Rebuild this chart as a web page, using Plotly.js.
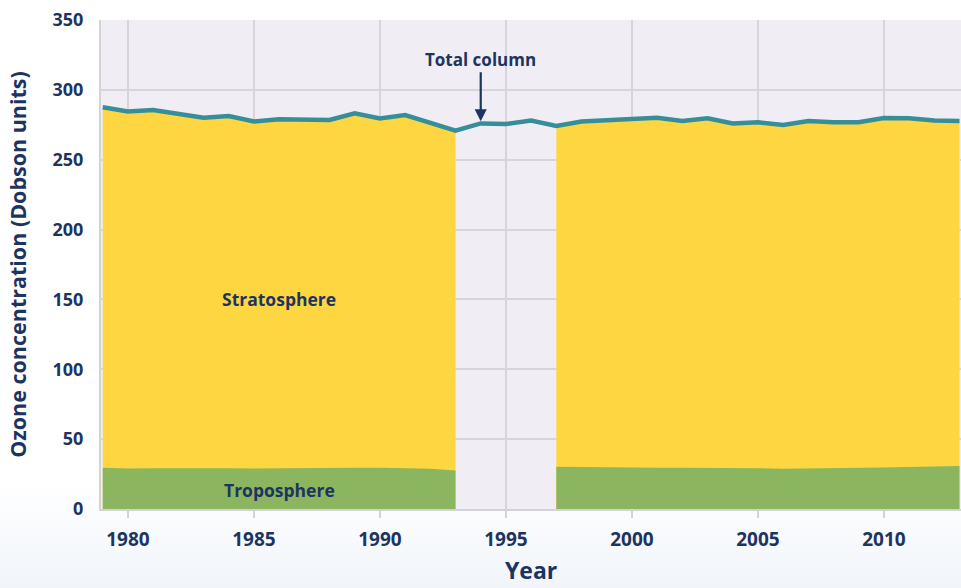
<!DOCTYPE html>
<html>
<head>
<meta charset="utf-8">
<script src="https://cdn.plot.ly/plotly-3.0.1.min.js"></script>
<style>
  html, body { margin: 0; padding: 0; }
  body { width: 961px; height: 588px; overflow: hidden;
         background: linear-gradient(to bottom, #ffffff 0%, #ffffff 82%, #f1f5fa 100%); }
  #chart { width: 961px; height: 588px; }
</style>
</head>
<body>
<div id="chart"></div>
<script>
// Years 1979-2013
const years = [1979,1980,1981,1982,1983,1984,1985,1986,1987,1988,1989,1990,1991,1992,1993,1994,1995,1996,1997,1998,1999,2000,2001,2002,2003,2004,2005,2006,2007,2008,2009,2010,2011,2012,2013];

// Total column ozone (Dobson units)
const totalColumn = [287.5,284.5,285.6,282.7,280.0,281.3,277.3,279.0,279.0,278.5,283.2,279.6,282.0,276.0,270.8,276.0,275.6,278.0,274.2,277.3,278.0,279.0,280.0,277.7,279.6,276.0,276.8,274.9,277.7,276.8,276.8,279.9,279.6,278.0,277.7];

// Troposphere (no data 1994-1996)
const troposphere = [29.5,29.0,29.2,29.3,29.2,29.1,29.0,29.2,29.7,29.8,29.6,29.5,29.3,28.8,27.5,null,null,null,30.3,30.0,29.9,29.8,29.6,29.5,29.5,29.4,29.2,28.8,28.9,29.0,29.3,29.7,30.0,30.3,30.7];

// Stratosphere (no data 1994-1996)
const stratosphere = [258.0,255.5,256.4,253.4,250.8,252.2,248.3,249.8,249.3,248.7,253.6,250.1,252.7,247.2,243.3,null,null,null,243.9,247.3,248.1,249.2,250.4,248.2,250.1,246.6,247.6,246.1,248.8,247.8,247.5,250.2,249.6,247.7,247.0];

const xTicks = [1980,1985,1990,1995,2000,2005,2010];
const yTicks = [0,50,100,150,200,250,300,350];

const navy = '#1d3461';
const font = {family: '"Open Sans", "Noto Sans", sans-serif', color: navy, weight: 'bold'};

// stacked top of stratosphere band
const stratTop = troposphere.map((t, i) => (t === null || stratosphere[i] === null) ? null : t + stratosphere[i]);

// split a series into contiguous non-null segments
function segments(xs, ys) {
  const out = [];
  let cur = null;
  ys.forEach((v, i) => {
    if (v === null) { cur = null; return; }
    if (!cur) { cur = {x: [], y: []}; out.push(cur); }
    cur.x.push(xs[i]); cur.y.push(v);
  });
  return out;
}

const traces = [];
segments(years, stratTop).forEach(s => traces.push({
  x: s.x, y: s.y, type: 'scatter', mode: 'lines', fill: 'tozeroy',
  fillcolor: '#fed642', line: {width: 0, color: '#fed642'}, hoverinfo: 'skip', name: 'Stratosphere'}));
segments(years, troposphere).forEach(s => traces.push({
  x: s.x, y: s.y, type: 'scatter', mode: 'lines', fill: 'tozeroy',
  fillcolor: '#8bb55f', line: {width: 0, color: '#8bb55f'}, hoverinfo: 'skip', name: 'Troposphere'}));
traces.push({x: years, y: totalColumn, type: 'scatter', mode: 'lines',
  line: {width: 4.5, color: '#368e9b'}, name: 'Total column'});

const layout = {
  width: 961, height: 588,
  margin: {l: 101, r: 0, t: 20, b: 79},
  paper_bgcolor: 'rgba(0,0,0,0)',
  plot_bgcolor: '#f0eef4',
  showlegend: false,
  xaxis: {
    range: [1978.93, 2013.06],
    tickvals: xTicks, ticktext: xTicks.map(String),
    showgrid: true, gridcolor: '#d6d6da', gridwidth: 2,
    showline: true, linecolor: '#d3d3d7', linewidth: 2,
    ticks: 'outside', ticklen: 7, tickwidth: 2, tickcolor: '#d3d3d7',
    ticklabelstandoff: 5,
    tickfont: Object.assign({}, font, {size: 19}),
    zeroline: false
  },
  yaxis: {
    range: [0, 350],
    tickvals: yTicks, ticktext: yTicks.map(String),
    showgrid: true, gridcolor: '#d6d6da', gridwidth: 2,
    showline: true, linecolor: '#d3d3d7', linewidth: 2,
    ticks: '', ticklabelstandoff: 12,
    tickfont: Object.assign({}, font, {size: 18}),
    zeroline: false,
    title: {text: 'Ozone concentration (Dobson units)', font: Object.assign({}, font, {size: 21.5}), standoff: 20}
  },
  annotations: [
    {x: 0.5, y: 0, xref: 'paper', yref: 'paper', yanchor: 'middle', yshift: -61, borderpad: 0,
     text: 'Year', showarrow: false, font: Object.assign({}, font, {size: 23})},
    {x: 1986, y: 150, xref: 'x', yref: 'y', text: 'Stratosphere', showarrow: false,
     font: Object.assign({}, font, {size: 17.5})},
    {x: 1986, y: 13.6, xref: 'x', yref: 'y', text: 'Troposphere', showarrow: false,
     font: Object.assign({}, font, {size: 17.5})},
    {x: 1994, y: 277.5, xref: 'x', yref: 'y', text: 'Total column', showarrow: true,
     ax: 0, ay: -62, arrowhead: 2, arrowsize: 1.1, arrowwidth: 2.2, arrowcolor: navy,
     standoff: 0, font: Object.assign({}, font, {size: 17})}
  ]
};

Plotly.newPlot('chart', traces, layout, {displayModeBar: false, staticPlot: true});
</script>
</body>
</html>
